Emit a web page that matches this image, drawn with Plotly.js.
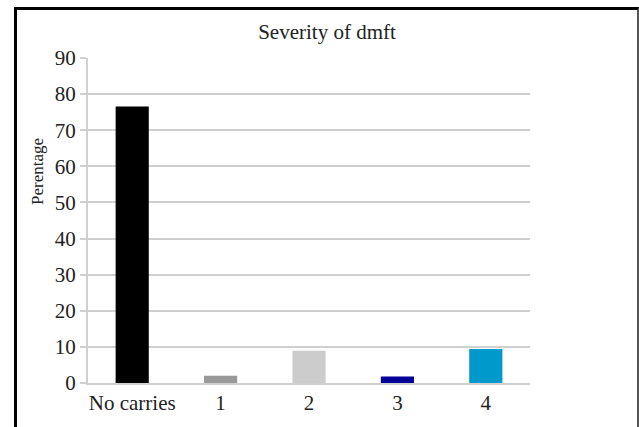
<!DOCTYPE html>
<html>
<head>
<meta charset="utf-8">
<script src="https://cdn.plot.ly/plotly-3.0.1.min.js"></script>
<style>
html,body{margin:0;padding:0;background:#fff;}
#chart{width:639px;height:427px;position:absolute;left:0;top:0;}
#chart svg text{font-family:"Liberation Serif", serif !important;}
#frame{position:absolute;left:14px;top:7px;width:620px;height:440px;border-top:3px solid #000;border-left:3px solid #000;border-right:2px solid #555;pointer-events:none;}
</style>
</head>
<body>
<div id="chart"></div>
<div id="frame"></div>
<script>
var categories = ["No carries", "1", "2", "3", "4"];
var percentages = [76.6, 2.0, 8.9, 1.8, 9.4];
var barColors = ["#000000", "#999999", "#cccccc", "#000099", "#0099cc"];
var yTicks = [0, 10, 20, 30, 40, 50, 60, 70, 80, 90];

var trace = {
  type: "bar",
  x: categories,
  y: percentages,
  width: 0.375,
  marker: {color: barColors, line: {width: 0}},
  hoverinfo: "x+y"
};

var serif = "Liberation Serif, serif";

var layout = {
  width: 639,
  height: 427,
  margin: {l: 88, r: 109, t: 58, b: 44},
  paper_bgcolor: "#ffffff",
  plot_bgcolor: "#ffffff",
  showlegend: false,
  font: {family: serif, color: "#222222", size: 21},
  title: {
    text: "Severity of dmft",
    font: {family: serif, size: 21, color: "#222222"},
    x: 327 / 639, xref: "container", xanchor: "center",
    y: 1 - 32 / 427, yref: "container", yanchor: "middle"
  },
  xaxis: {
    type: "category",
    showgrid: false,
    showline: true,
    linecolor: "#d0d0d0",
    linewidth: 2,
    ticks: "",
    tickfont: {family: serif, size: 21, color: "#222222"},
    zeroline: false,
    fixedrange: true
  },
  yaxis: {
    range: [0, 90],
    tickvals: yTicks,
    ticktext: yTicks.map(String),
    showgrid: true,
    gridcolor: "#d0d0d0",
    gridwidth: 2,
    showline: true,
    linecolor: "#d0d0d0",
    linewidth: 2,
    ticks: "outside",
    ticklen: 6,
    tickwidth: 2,
    tickcolor: "#d0d0d0",
    tickfont: {family: serif, size: 21, color: "#222222"},
    zeroline: false,
    fixedrange: true
  },
  annotations: [{
    text: "Perentage",
    xref: "paper", yref: "paper",
    x: (37 - 88) / 442, y: (383 - 172) / 325,
    xanchor: "center", yanchor: "middle",
    textangle: -90,
    showarrow: false,
    font: {family: serif, size: 17, color: "#222222"}
  }],
  bargap: 0.6
};

Plotly.newPlot("chart", [trace], layout, {displayModeBar: false, staticPlot: true});
</script>
</body>
</html>
